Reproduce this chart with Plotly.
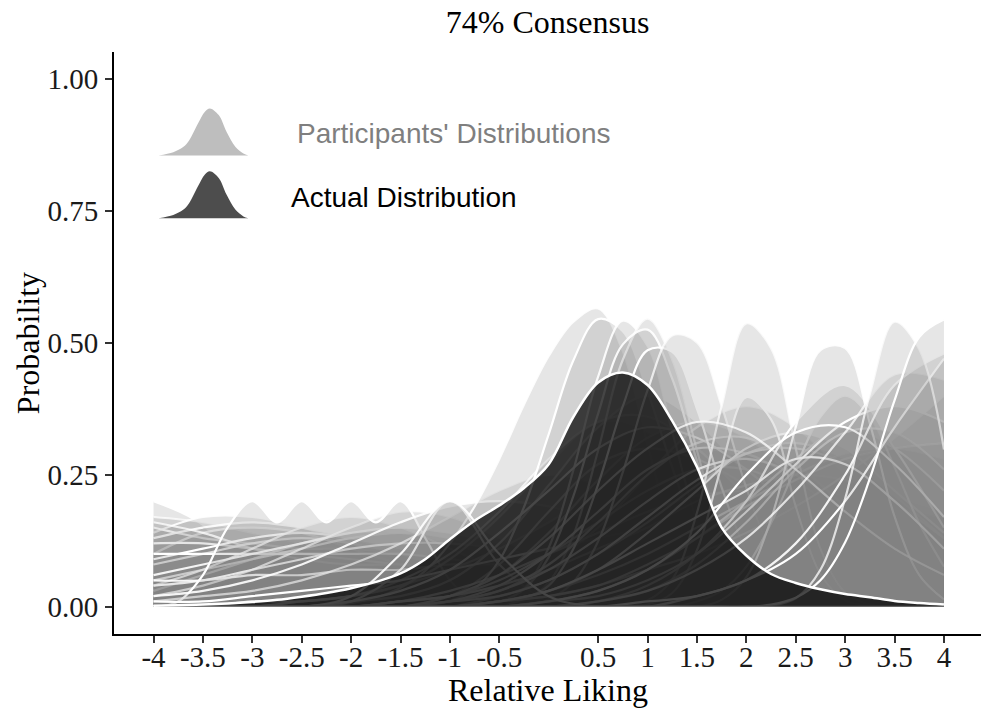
import plotly.graph_objects as go

# ---------------- data ----------------
X = [-4, -3.5, -3, -2.5, -2, -1.5, -1, -0.5, 0, 0.5, 1, 1.5, 2, 2.5, 3, 3.5, 4]
XF = [-4, -3.75, -3.5, -3.25, -3, -2.75, -2.5, -2.25, -2, -1.75, -1.5, -1.25, -1, -0.75,
      -0.5, -0.25, 0, 0.25, 0.5, 0.75, 1, 1.25, 1.5, 1.75, 2, 2.25, 2.5, 2.75, 3, 3.25,
      3.5, 3.75, 4]
X_TICKS = [-4, -3.5, -3, -2.5, -2, -1.5, -1, -0.5, 0.5, 1, 1.5, 2, 2.5, 3, 3.5, 4]
X_TICKTEXT = ["-4", "-3.5", "-3", "-2.5", "-2", "-1.5", "-1", "-0.5",
              "0.5", "1", "1.5", "2", "2.5", "3", "3.5", "4"]
Y_TICKS = [0, 0.25, 0.5, 0.75, 1.0]

# participants with peaked distributions (values on XF)
T01 = [0, 0, 0, 0, 0, 0, 0, 0, 0.007, 0.017, 0.036, 0.068, 0.12, 0.19, 0.28, 0.383, 0.475,
       0.54, 0.565, 0.484, 0.306, 0.141, 0.048, 0.012, 0.002, 0, 0, 0, 0, 0, 0, 0, 0]
T02 = [0, 0, 0, 0, 0, 0, 0, 0, 0, 0, 0, 0.003, 0.011, 0.034, 0.088, 0.189, 0.327, 0.467,
       0.545, 0.522, 0.408, 0.264, 0.138, 0.06, 0.021, 0.006, 0.001, 0, 0, 0, 0, 0, 0]
T03 = [0, 0, 0, 0, 0, 0, 0, 0, 0, 0, 0, 0, 0, 0, 0.008, 0.036, 0.112, 0.259, 0.436, 0.542,
       0.494, 0.331, 0.162, 0.06, 0.015, 0.003, 0, 0, 0, 0, 0, 0, 0]
T04 = [0, 0, 0, 0, 0, 0, 0, 0, 0, 0, 0, 0, 0, 0, 0.002, 0.012, 0.046, 0.136, 0.296, 0.468,
       0.546, 0.468, 0.296, 0.136, 0.046, 0.012, 0.002, 0, 0, 0, 0, 0, 0]
T05 = [0, 0, 0, 0, 0, 0, 0, 0, 0, 0, 0, 0, 0, 0, 0.009, 0.033, 0.094, 0.21, 0.366, 0.497,
       0.525, 0.432, 0.276, 0.138, 0.054, 0.016, 0.004, 0, 0, 0, 0, 0, 0]
T06 = [0, 0, 0, 0, 0, 0, 0, 0, 0, 0, 0, 0, 0, 0, 0, 0, 0.014, 0.047, 0.124, 0.255, 0.41,
       0.514, 0.501, 0.38, 0.225, 0.104, 0.037, 0.01, 0.002, 0, 0, 0, 0]
T07 = [0, 0, 0, 0, 0, 0, 0, 0, 0, 0, 0, 0, 0, 0, 0, 0, 0, 0, 0, 0, 0.012, 0.052, 0.178,
       0.38, 0.537, 0.49, 0.30, 0.11, 0.027, 0.004, 0, 0, 0]
T08 = [0, 0, 0, 0, 0, 0, 0, 0, 0, 0, 0, 0, 0, 0, 0, 0, 0, 0, 0, 0, 0.004, 0.026, 0.107,
       0.267, 0.397, 0.355, 0.19, 0.062, 0.012, 0.002, 0, 0, 0]
T09 = [0, 0, 0, 0, 0, 0, 0, 0, 0, 0, 0, 0, 0, 0, 0, 0, 0, 0, 0, 0, 0, 0, 0, 0, 0, 0.002,
       0.016, 0.07, 0.205, 0.403, 0.54, 0.488, 0.298]
T10 = [0, 0, 0, 0, 0, 0, 0, 0, 0, 0, 0, 0, 0, 0, 0, 0, 0, 0, 0, 0, 0, 0, 0, 0, 0, 0.004,
       0.017, 0.05, 0.122, 0.243, 0.391, 0.511, 0.544]
T11 = [0, 0, 0, 0, 0, 0, 0, 0, 0, 0, 0, 0, 0, 0, 0, 0, 0, 0, 0, 0, 0, 0, 0, 0.013, 0.056,
       0.166, 0.34, 0.486, 0.49, 0.347, 0.171, 0.06, 0.014]
T12 = [0, 0, 0, 0, 0, 0, 0, 0, 0, 0, 0, 0, 0, 0, 0, 0, 0, 0, 0, 0, 0, 0, 0.01, 0.03, 0.076,
       0.158, 0.264, 0.36, 0.4, 0.36, 0.264, 0.158, 0.076]
T13 = [0, 0, 0, 0, 0, 0, 0, 0, 0, 0, 0, 0, 0, 0, 0, 0.015, 0.04, 0.11, 0.232, 0.38, 0.486,
       0.483, 0.375, 0.226, 0.106, 0.039, 0.011, 0.003, 0, 0, 0, 0, 0]

# participants with broad distributions (values on X)
B01 = [0, 0, 0, 0, 0, 0, 0, 0.02, 0.05, 0.10, 0.16, 0.23, 0.29, 0.31, 0.28, 0.21, 0.13]
B02 = [0, 0, 0, 0, 0, 0, 0.01, 0.03, 0.08, 0.15, 0.25, 0.34, 0.38, 0.34, 0.25, 0.15, 0.08]
B03 = [0, 0, 0, 0, 0, 0, 0, 0, 0.01, 0.03, 0.07, 0.13, 0.20, 0.28, 0.34, 0.30, 0.22]
B04 = [0, 0, 0, 0, 0, 0, 0, 0.01, 0.02, 0.04, 0.07, 0.10, 0.14, 0.19, 0.25, 0.32, 0.40]
B05 = [0, 0, 0, 0, 0, 0, 0, 0, 0, 0.01, 0.03, 0.07, 0.13, 0.22, 0.33, 0.44, 0.43]
B06 = [0, 0, 0, 0, 0, 0, 0, 0, 0, 0, 0, 0.02, 0.05, 0.12, 0.25, 0.42, 0.48]
B07 = [0, 0, 0, 0, 0, 0, 0.02, 0.08, 0.18, 0.27, 0.30, 0.28, 0.23, 0.17, 0.12, 0.08, 0.05]
B08 = [0, 0, 0, 0, 0, 0.01, 0.03, 0.06, 0.10, 0.14, 0.18, 0.21, 0.22, 0.22, 0.21, 0.19, 0.17]
B09 = [0, 0, 0, 0, 0, 0, 0.02, 0.06, 0.14, 0.24, 0.32, 0.35, 0.32, 0.24, 0.15, 0.08, 0.04]
B10 = [0, 0, 0, 0, 0, 0.01, 0.02, 0.04, 0.07, 0.11, 0.15, 0.20, 0.23, 0.25, 0.24, 0.21, 0.18]
B11 = [0, 0, 0, 0, 0.01, 0.02, 0.05, 0.12, 0.23, 0.34, 0.40, 0.35, 0.25, 0.15, 0.08, 0.04, 0.02]
B12 = [0, 0, 0, 0.01, 0.02, 0.04, 0.09, 0.17, 0.27, 0.35, 0.33, 0.25, 0.16, 0.09, 0.05, 0.02, 0.01]
B13 = [0, 0, 0.01, 0.01, 0.02, 0.04, 0.07, 0.11, 0.16, 0.22, 0.27, 0.30, 0.28, 0.22, 0.16, 0.10, 0.06]
B14 = [0, 0, 0, 0, 0, 0, 0, 0.01, 0.03, 0.06, 0.10, 0.15, 0.20, 0.25, 0.29, 0.30, 0.28]
B15 = [0, 0, 0, 0, 0, 0, 0, 0, 0, 0.01, 0.04, 0.10, 0.20, 0.35, 0.42, 0.30, 0.15]
B16 = [0.01, 0.02, 0.03, 0.05, 0.08, 0.12, 0.17, 0.22, 0.25, 0.23, 0.18, 0.12, 0.07, 0.04, 0.02, 0.01, 0]
B17 = [0.02, 0.03, 0.05, 0.08, 0.12, 0.16, 0.19, 0.20, 0.19, 0.16, 0.12, 0.08, 0.05, 0.03, 0.02, 0.01, 0]
B18 = [0, 0, 0, 0, 0, 0, 0, 0.01, 0.02, 0.04, 0.08, 0.13, 0.19, 0.24, 0.28, 0.30, 0.31]
B19 = [0, 0, 0, 0, 0, 0, 0.01, 0.02, 0.05, 0.10, 0.17, 0.24, 0.29, 0.30, 0.27, 0.20, 0.13]
B20 = [0, 0, 0, 0, 0, 0, 0, 0, 0.01, 0.02, 0.05, 0.10, 0.18, 0.27, 0.35, 0.38, 0.35]
B21 = [0, 0, 0, 0, 0, 0, 0.01, 0.04, 0.10, 0.18, 0.26, 0.30, 0.29, 0.24, 0.17, 0.11, 0.07]
B22 = [0, 0, 0, 0, 0, 0, 0, 0.01, 0.03, 0.07, 0.12, 0.17, 0.22, 0.28, 0.27, 0.20, 0.11]
B23 = [0, 0, 0, 0.01, 0.02, 0.05, 0.10, 0.18, 0.28, 0.35, 0.36, 0.30, 0.21, 0.13, 0.07, 0.03, 0.01]
B24 = [0, 0, 0, 0, 0.01, 0.03, 0.07, 0.14, 0.22, 0.30, 0.34, 0.32, 0.26, 0.18, 0.11, 0.06, 0.03]
R01 = [0, 0, 0, 0, 0, 0, 0.01, 0.03, 0.07, 0.13, 0.20, 0.26, 0.28, 0.25, 0.18, 0.11, 0.06]
R02 = [0, 0, 0, 0, 0, 0.01, 0.02, 0.05, 0.10, 0.16, 0.22, 0.26, 0.26, 0.22, 0.16, 0.10, 0.05]
R03 = [0, 0, 0, 0, 0, 0, 0, 0.01, 0.03, 0.07, 0.14, 0.22, 0.30, 0.33, 0.30, 0.22, 0.14]
R04 = [0, 0, 0, 0, 0, 0, 0, 0, 0.01, 0.03, 0.07, 0.14, 0.25, 0.33, 0.34, 0.27, 0.17]
R05 = [0.01, 0.01, 0.02, 0.03, 0.04, 0.05, 0.07, 0.09, 0.11, 0.13, 0.15, 0.17, 0.18, 0.19, 0.19, 0.18, 0.17]
R06 = [0, 0, 0, 0, 0, 0, 0.01, 0.03, 0.08, 0.16, 0.25, 0.31, 0.32, 0.27, 0.19, 0.11, 0.05]
R07 = [0, 0, 0, 0, 0, 0, 0, 0, 0, 0.01, 0.03, 0.08, 0.16, 0.26, 0.33, 0.33, 0.26]
R08 = [0, 0, 0, 0, 0, 0, 0, 0, 0, 0, 0.01, 0.02, 0.05, 0.10, 0.20, 0.34, 0.47]
R09 = [0, 0, 0, 0, 0, 0, 0.02, 0.06, 0.13, 0.22, 0.30, 0.35, 0.33, 0.26, 0.18, 0.11, 0.06]

# participants leaning negative (values on X)
L01 = [0.17, 0.16, 0.14, 0.12, 0.10, 0.08, 0.06, 0.04, 0.02, 0.01, 0, 0, 0, 0, 0, 0, 0]
L02 = [0.10, 0.14, 0.15, 0.14, 0.11, 0.08, 0.05, 0.03, 0.01, 0, 0, 0, 0, 0, 0, 0, 0]
L03 = [0.04, 0.07, 0.11, 0.15, 0.17, 0.15, 0.11, 0.07, 0.03, 0.01, 0, 0, 0, 0, 0, 0, 0]
L04 = [0.20, 0.155, 0.05, 0.005, 0, 0, 0, 0, 0, 0, 0, 0, 0, 0, 0, 0, 0]
L05 = [0.05, 0.07, 0.09, 0.11, 0.13, 0.14, 0.13, 0.10, 0.06, 0.03, 0.01, 0, 0, 0, 0, 0, 0]
L06 = [0.12, 0.12, 0.11, 0.10, 0.09, 0.08, 0.07, 0.06, 0.05, 0.04, 0.03, 0.02, 0.01, 0, 0, 0, 0]
L07 = [0.08, 0.10, 0.12, 0.13, 0.12, 0.10, 0.07, 0.04, 0.02, 0.01, 0, 0, 0, 0, 0, 0, 0]
L08 = [0.02, 0.04, 0.07, 0.11, 0.15, 0.18, 0.17, 0.13, 0.08, 0.04, 0.02, 0.01, 0, 0, 0, 0, 0]
L09 = [0, 0, 0, 0, 0.01, 0.07, 0.20, 0.08, 0.01, 0, 0, 0, 0, 0, 0, 0, 0]
L10 = [0, 0, 0, 0, 0.02, 0.10, 0.20, 0.10, 0.02, 0, 0, 0, 0, 0, 0, 0, 0]
L11 = [0.03, 0.06, 0.09, 0.12, 0.14, 0.14, 0.12, 0.09, 0.06, 0.03, 0.01, 0, 0, 0, 0, 0, 0]
L12 = [0.05, 0.05, 0.06, 0.06, 0.07, 0.07, 0.08, 0.08, 0.08, 0.08, 0.07, 0.07, 0.06, 0.05, 0.04, 0.03, 0.02]
L13 = [0.15, 0.13, 0.12, 0.11, 0.11, 0.10, 0.08, 0.06, 0.04, 0.02, 0.01, 0, 0, 0, 0, 0, 0]
L14 = [0.09, 0.11, 0.13, 0.14, 0.13, 0.11, 0.08, 0.05, 0.03, 0.01, 0, 0, 0, 0, 0, 0, 0]
L15 = [0.06, 0.08, 0.10, 0.12, 0.14, 0.15, 0.14, 0.12, 0.09, 0.06, 0.04, 0.02, 0.01, 0, 0, 0, 0]
L16 = [0.13, 0.15, 0.16, 0.15, 0.13, 0.10, 0.07, 0.05, 0.03, 0.02, 0.01, 0, 0, 0, 0, 0, 0]
L17 = [0.16, 0.14, 0.11, 0.09, 0.08, 0.08, 0.08, 0.07, 0.06, 0.05, 0.04, 0.03, 0.02, 0.01, 0, 0, 0]
L18 = [0.04, 0.05, 0.07, 0.09, 0.11, 0.12, 0.12, 0.11, 0.09, 0.07, 0.05, 0.03, 0.02, 0.01, 0, 0, 0]
L19 = [0.10, 0.10, 0.10, 0.10, 0.10, 0.10, 0.09, 0.08, 0.07, 0.06, 0.05, 0.04, 0.03, 0.03, 0.02, 0.02, 0.01]
L20 = [0.14, 0.17, 0.17, 0.15, 0.12, 0.09, 0.06, 0.04, 0.02, 0.01, 0, 0, 0, 0, 0, 0, 0]

# one participant read on its own grid (scalloped)
S01_X = [-4, -3.75, -3.5, -3.25, -3, -2.75, -2.5, -2.25, -2, -1.75, -1.5, -1.25, -1, -0.75, -0.5]
S01_Y = [0.0, 0.01, 0.06, 0.15, 0.20, 0.16, 0.20, 0.16, 0.20, 0.16, 0.20, 0.13, 0.05, 0.01, 0.0]

# drawing order of the participants' curves
CURVES = [(X, L04), (X, L01), (X, L20), (X, L13), (X, L02), (X, L16), (X, L06), (X, L17),
          (X, L07), (X, L14), (X, L11), (X, L05), (X, L19), (X, L03), (X, L15), (X, L18),
          (X, L08), (X, L12), (S01_X, S01_Y), (X, B16), (X, B17), (X, B13), (X, B12),
          (XF, T01), (X, B11), (X, B23), (X, B07), (X, R05), (X, B09), (X, L09), (XF, T02),
          (X, B02), (XF, T03), (X, B24), (X, B08), (X, R02), (X, B10), (XF, T04), (XF, T05),
          (X, B21), (X, R06), (X, B01), (XF, T13), (XF, T06), (X, R01), (X, B19), (X, B14),
          (X, B04), (X, R03), (X, B18), (X, B03), (XF, T08), (XF, T07), (XF, T12), (X, B15),
          (X, R07), (XF, T11), (X, B20), (X, R09), (X, B22), (X, R04), (X, B05), (X, B06),
          (X, R08), (XF, T09), (X, L10), (XF, T10)]

# actual distribution
ACTUAL_X = XF
ACTUAL_Y = [0.002, 0.003, 0.004, 0.006, 0.009, 0.013, 0.019, 0.026, 0.035, 0.047, 0.063, 0.09,
            0.128, 0.163, 0.192, 0.225, 0.27, 0.36, 0.425, 0.444, 0.42, 0.352, 0.265, 0.15, 0.097,
            0.062, 0.045, 0.033, 0.024, 0.018, 0.011, 0.007, 0.004]

# legend key glyph profile
GLYPH_DX = [-0.52, -0.37, -0.27, -0.21, -0.12, -0.05, 0, 0.09, 0.17, 0.26, 0.34, 0.39]
GLYPH_H = [0, 0.07, 0.18, 0.32, 0.68, 0.93, 1.0, 0.86, 0.5, 0.18, 0.04, 0]
LEGEND_LABELS = ["Participants' Distributions", "Actual Distribution"]

# ---------------- figure ----------------
fig = go.Figure()
SERIF = "Liberation Serif, Times New Roman, serif"
SANS = "Liberation Sans, Arial, sans-serif"
PART_FILL = "rgba(130,130,130,0.2)"
LINE_ALPHAS = [1.0, 0.75, 0.9]

for i, (xs, ys) in enumerate(CURVES):
    fig.add_trace(go.Scatter(
        x=xs, y=ys, mode="lines", fill="tozeroy", fillcolor=PART_FILL,
        line=dict(color=f"rgba(255,255,255,{LINE_ALPHAS[i % 3]})", width=2.2, shape="spline"),
        hoverinfo="skip", showlegend=False))

fig.add_trace(go.Scatter(
    x=ACTUAL_X, y=ACTUAL_Y, mode="lines", fill="tozeroy", fillcolor="rgba(0,0,0,0.72)",
    line=dict(color="white", width=2.5, shape="spline"),
    hoverinfo="skip", showlegend=False))

# legend keys (drawn inside the panel like the original)
key_center = -3.43
key_specs = [(0.855, "rgb(190,190,190)"), (0.736, "rgb(77,77,77)")]
key_height = 0.089
for base, col in key_specs:
    fig.add_trace(go.Scatter(
        x=[key_center + d for d in GLYPH_DX],
        y=[base + key_height * h for h in GLYPH_H],
        mode="lines", fill="toself", fillcolor=col,
        line=dict(color=col, width=0, shape="spline"),
        hoverinfo="skip", showlegend=False))

fig.add_annotation(x=-2.566, y=0.897, xref="x", yref="y", text=LEGEND_LABELS[0],
                   showarrow=False, xanchor="left", yanchor="middle",
                   font=dict(family=SANS, size=28, color="#7f7f7f"))
fig.add_annotation(x=-2.627, y=0.776, xref="x", yref="y", text=LEGEND_LABELS[1],
                   showarrow=False, xanchor="left", yanchor="middle",
                   font=dict(family=SANS, size=28, color="#000000"))

# axis titles
fig.add_annotation(x=0.5, y=-0.097, xref="paper", yref="paper", text="Relative Liking",
                   showarrow=False, xanchor="center", yanchor="middle",
                   font=dict(family=SERIF, size=32, color="black"))
fig.add_annotation(x=-0.099, y=0.5, xref="paper", yref="paper", text="Probability",
                   showarrow=False, xanchor="center", yanchor="middle", textangle=-90,
                   font=dict(family=SERIF, size=32, color="black"))

fig.update_layout(
    width=981, height=713,
    margin=dict(l=114, r=0, t=52, b=79),
    paper_bgcolor="white", plot_bgcolor="white",
    showlegend=False, hovermode=False,
    title=dict(text="74% Consensus", x=0.5582, xanchor="center", y=1 - 22 / 713,
               yanchor="middle", font=dict(family=SERIF, size=32, color="black")),
)
fig.update_xaxes(range=[-4.4, 4.375], tickvals=X_TICKS, ticktext=X_TICKTEXT,
                 showline=True, linecolor="black", linewidth=2, mirror=False,
                 ticks="outside", ticklen=7, tickwidth=2, tickcolor="#333",
                 showgrid=False, zeroline=False, ticklabelstandoff=-11,
                 tickfont=dict(family=SERIF, size=29, color="#1a1a1a"))
fig.update_yaxes(range=[-0.0517, 1.0511], tickvals=Y_TICKS, tickformat=".2f",
                 showline=True, linecolor="black", linewidth=2, mirror=False,
                 ticks="outside", ticklen=7, tickwidth=2, tickcolor="#333",
                 showgrid=False, zeroline=False, ticklabelstandoff=1,
                 tickfont=dict(family=SERIF, size=29, color="#1a1a1a"))

fig.write_html("out.html")
